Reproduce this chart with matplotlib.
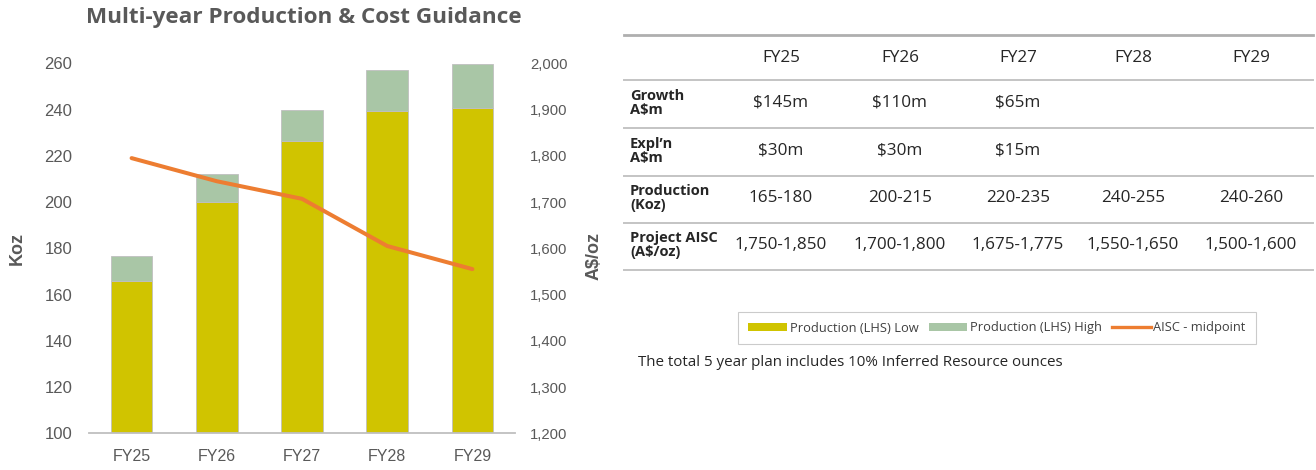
import matplotlib
matplotlib.use("Agg")
import matplotlib.pyplot as plt
from matplotlib.lines import Line2D
from matplotlib.patches import Patch
import numpy as np

# ---------------- data ----------------
years = ["FY25", "FY26", "FY27", "FY28", "FY29"]
prod_low = [166, 200, 226.5, 239.5, 240.5]
prod_high = [176.5, 212, 240, 257, 259.5]
aisc_mid = [1795, 1745, 1707, 1605, 1555]

left_ticks = [100, 120, 140, 160, 180, 200, 220, 240, 260]
right_ticks = [1200, 1300, 1400, 1500, 1600, 1700, 1800, 1900, 2000]

table_cols = ["FY25", "FY26", "FY27", "FY28", "FY29"]
table_rows = ["Growth\nA$m", "Expl’n\nA$m", "Production\n(Koz)", "Project AISC\n(A$/oz)"]
table_growth = ["$145m", "$110m", "$65m", "", ""]
table_expl = ["$30m", "$30m", "$15m", "", ""]
table_prod = ["165-180", "200-215", "220-235", "240-255", "240-260"]
table_aisc = ["1,750-1,850", "1,700-1,800", "1,675-1,775", "1,550-1,650", "1,500-1,600"]
table_values = [table_growth, table_expl, table_prod, table_aisc]

title = "Multi-year Production & Cost Guidance"
footnote = "The total 5 year plan includes 10% Inferred Resource ounces"

# ---------------- style ----------------
C_LOW = "#D0C400"
C_HIGH = "#A9C6A6"
C_LINE = "#ED7D31"
C_TXT = "#595959"
C_EDGE = "#BFBFBF"

W, H = 1316, 470
fig = plt.figure(figsize=(W / 100, H / 100), dpi=100)

def fx(px):
    return px / W

def fy(py):
    return 1 - py / H

ax = fig.add_axes([fx(89), fy(433.3), fx(515) - fx(89), fy(63.3) - fy(433.3)])
x = np.arange(len(years))
bw = 0.49
high_inc = [h - l for h, l in zip(prod_high, prod_low)]
base = left_ticks[0]
ax.bar(x, [l - base for l in prod_low], bottom=base, width=bw, color=C_LOW,
       edgecolor=C_EDGE, linewidth=0.6, label="Production (LHS) Low", zorder=2)
ax.bar(x, high_inc, bottom=prod_low, width=bw, color=C_HIGH,
       edgecolor=C_EDGE, linewidth=0.6, label="Production (LHS) High", zorder=2)
ax.set_xlim(-0.5, len(years) - 0.5)
ax.set_ylim(left_ticks[0], left_ticks[-1])
ax.set_yticks(left_ticks)
ax.set_yticklabels([str(t) for t in left_ticks])
ax.set_xticks(x)
ax.set_xticklabels(years)
for s in ["top", "right", "left"]:
    ax.spines[s].set_visible(False)
ax.spines["bottom"].set_color(C_EDGE)
ax.spines["bottom"].set_linewidth(1.3)
ax.tick_params(axis="y", length=0, pad=12, labelsize=12, labelcolor=C_TXT)
ax.tick_params(axis="x", length=0, pad=11, labelsize=11.5, labelcolor=C_TXT)
for lab in ax.get_xticklabels() + ax.get_yticklabels():
    lab.set_family("Liberation Sans")
ax.set_ylabel("Koz", fontsize=13, fontweight="bold", color=C_TXT, family="Liberation Sans")
ax.yaxis.set_label_coords(-0.148, 0.5)

ax2 = ax.twinx()
ax2.plot(x, aisc_mid, color=C_LINE, linewidth=2.9, label="AISC - midpoint",
         solid_capstyle="round", zorder=3)
ax2.set_ylim(right_ticks[0], right_ticks[-1])
ax2.set_yticks(right_ticks)
ax2.set_yticklabels([f"{t:,}" for t in right_ticks])
for s in ["top", "right", "left", "bottom"]:
    ax2.spines[s].set_visible(False)
ax2.tick_params(axis="y", length=0, pad=11, labelsize=10.7, labelcolor=C_TXT)
for lab in ax2.get_yticklabels():
    lab.set_family("Liberation Sans")
ax2.set_ylabel("A$/oz", fontsize=13, fontweight="bold", color=C_TXT, family="Liberation Sans")
ax2.yaxis.set_label_coords(1.166, 0.48)

fig.text(fx(304), fy(18), title, ha="center", va="center", fontsize=16.2,
         fontweight="bold", color=C_TXT, family="Open Sans")

# ---------------- table ----------------
col_x = [781, 900, 1018, 1133, 1251]
header_y = 58
row_y = [103, 151, 198, 245]
line_y = [80, 128, 176, 223, 270]
tx0, tx1 = 624, 1313

fig.add_artist(Line2D([fx(tx0), fx(tx1)], [fy(35), fy(35)], color="#AFAFAF", linewidth=2.0))
for ly in line_y:
    fig.add_artist(Line2D([fx(tx0), fx(tx1)], [fy(ly), fy(ly)], color="#C4C4C4", linewidth=1.4))

for cx, c in zip(col_x, table_cols):
    fig.text(fx(cx), fy(header_y), c, ha="center", va="center", fontsize=12.3,
             color="#262626", family="Open Sans")
for ry, rl, vals in zip(row_y, table_rows, table_values):
    fig.text(fx(630), fy(ry), rl, ha="left", va="center", fontsize=10.5,
             fontweight="bold", color="#262626", family="Open Sans", linespacing=1.0)
    for cx, v in zip(col_x, vals):
        if v:
            fig.text(fx(cx), fy(ry), v, ha="center", va="center", fontsize=12.3,
                     color="#262626", family="Open Sans")

# ---------------- legend ----------------
handles = [Patch(facecolor=C_LOW, edgecolor="none"),
           Patch(facecolor=C_HIGH, edgecolor="none"),
           Line2D([0], [0], color=C_LINE, linewidth=2.4)]
labels = ["Production (LHS) Low", "Production (LHS) High", "AISC - midpoint"]
leg = fig.legend(handles, labels, loc="center", bbox_to_anchor=(fx(997), fy(328)),
                 ncol=3, frameon=True, fancybox=False,
                 handlelength=3.0, handleheight=0.6, handletextpad=0.2,
                 columnspacing=0.8, borderpad=0.75, prop={"family": "Open Sans", "size": 9.3})
leg.get_frame().set_edgecolor(C_EDGE)
leg.get_frame().set_linewidth(0.8)
for t in leg.get_texts():
    t.set_color("#404040")

fig.text(fx(638), fy(362), footnote, ha="left", va="center", fontsize=10.9,
         color="#262626", family="Open Sans")

fig.savefig("out.png", dpi=100)
